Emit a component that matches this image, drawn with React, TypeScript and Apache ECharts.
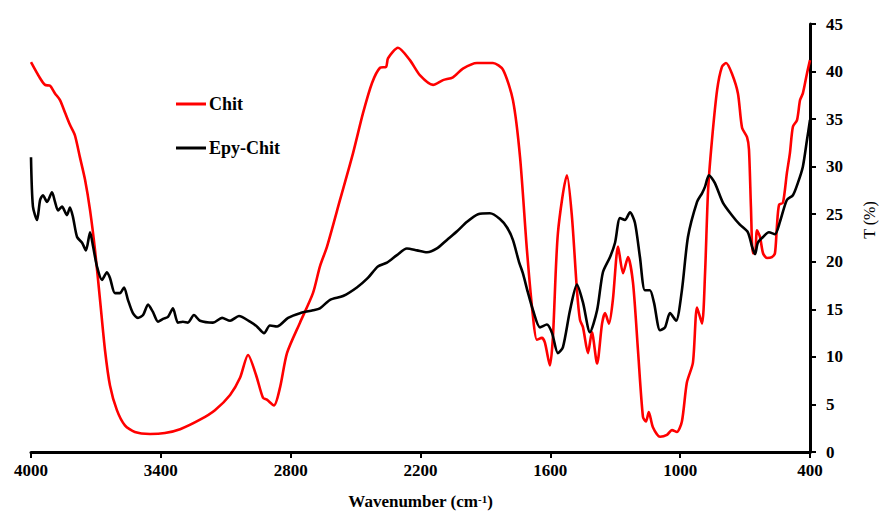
import React, { useEffect, useRef } from "react";
import * as echarts from "echarts";

const xTicks = [4000, 3400, 2800, 2200, 1600, 1000, 400];

const chitWn = [4000, 3958, 3935, 3912, 3889, 3866, 3843, 3820, 3797, 3774, 3750, 3727, 3704, 3681, 3658, 3635, 3603, 3566, 3520, 3450, 3381, 3311, 3219, 3150, 3080, 3034, 2997, 2960, 2928, 2910, 2877, 2849, 2817, 2757, 2697, 2665, 2632, 2572, 2512, 2466, 2424, 2387, 2359, 2350, 2304, 2249, 2202, 2142, 2096, 2050, 2004, 1939, 1865, 1819, 1773, 1740, 1708, 1680, 1662, 1639, 1625, 1602, 1588, 1565, 1523, 1500, 1477, 1463, 1449, 1426, 1408, 1384, 1361, 1347, 1329, 1311, 1287, 1264, 1241, 1218, 1195, 1172, 1158, 1145, 1126, 1093, 1061, 1038, 1015, 992, 969, 941, 922, 899, 885, 871, 853, 829, 807, 788, 761, 733, 714, 691, 682, 673, 664, 654, 645, 631, 617, 599, 576, 562, 553, 543, 525, 507, 493, 479, 460, 446, 433, 414, 400];
const chitT = [41.0, 39.3, 38.6, 38.5, 37.7, 37.0, 35.7, 34.4, 33.3, 31.0, 28.6, 25.4, 21.2, 16.0, 10.7, 7.0, 4.4, 2.8, 2.1, 1.9, 2.0, 2.4, 3.4, 4.4, 6.0, 7.8, 10.2, 8.1, 5.7, 5.5, 4.9, 6.8, 10.4, 13.6, 16.7, 19.5, 21.6, 26.5, 31.4, 35.6, 38.8, 40.4, 40.5, 41.4, 42.5, 41.2, 39.6, 38.6, 39.1, 39.4, 40.3, 40.9, 40.9, 40.2, 37.0, 31.0, 21.2, 14.2, 11.8, 12.0, 11.5, 9.1, 12.1, 23.0, 29.1, 24.7, 17.0, 13.9, 13.1, 10.4, 12.6, 9.3, 13.5, 14.6, 13.5, 16.0, 21.6, 18.8, 20.5, 17.8, 10.7, 3.7, 3.2, 4.2, 2.6, 1.6, 1.8, 2.3, 2.1, 3.2, 7.3, 9.4, 15.2, 13.5, 18.8, 27.5, 32.8, 38.1, 40.5, 40.9, 39.8, 37.7, 34.1, 33.1, 31.8, 25.8, 20.9, 20.9, 23.3, 22.6, 20.9, 20.4, 20.5, 20.9, 23.7, 26.0, 26.2, 29.3, 31.4, 34.2, 34.9, 37.0, 37.7, 39.8, 41.2];

const epyWn = [4000, 3991, 3972, 3958, 3945, 3926, 3903, 3889, 3875, 3857, 3834, 3820, 3806, 3787, 3764, 3746, 3727, 3713, 3695, 3672, 3649, 3635, 3612, 3589, 3570, 3552, 3529, 3506, 3482, 3459, 3436, 3413, 3390, 3367, 3344, 3321, 3298, 3275, 3247, 3219, 3159, 3117, 3080, 3039, 2988, 2956, 2923, 2896, 2863, 2812, 2757, 2697, 2665, 2618, 2558, 2494, 2443, 2397, 2355, 2309, 2263, 2216, 2170, 2124, 2078, 2031, 1985, 1934, 1879, 1833, 1800, 1773, 1745, 1727, 1704, 1680, 1648, 1616, 1592, 1565, 1542, 1509, 1477, 1449, 1417, 1384, 1357, 1324, 1301, 1278, 1255, 1232, 1209, 1186, 1163, 1140, 1121, 1093, 1070, 1047, 1019, 992, 964, 922, 899, 885, 867, 840, 802, 761, 724, 687, 668, 654, 641, 617, 590, 562, 539, 507, 479, 456, 433, 414, 400];
const epyT = [31.0, 25.8, 24.4, 26.5, 27.0, 26.3, 27.3, 26.3, 25.4, 25.8, 24.9, 25.7, 24.7, 22.6, 22.0, 21.2, 23.1, 21.6, 19.5, 18.1, 18.9, 18.3, 16.7, 16.7, 17.3, 16.0, 14.6, 14.1, 14.4, 15.5, 14.7, 13.7, 14.0, 14.2, 15.1, 13.6, 13.7, 13.6, 14.4, 13.8, 13.6, 14.1, 13.8, 14.3, 13.7, 13.2, 12.5, 13.3, 13.2, 14.1, 14.6, 14.9, 15.1, 16.0, 16.4, 17.3, 18.3, 19.5, 19.9, 20.7, 21.4, 21.2, 21.0, 21.4, 22.3, 23.2, 24.2, 25.0, 25.1, 24.5, 23.6, 22.3, 20.0, 18.8, 16.8, 14.9, 13.1, 13.4, 12.5, 10.4, 11.0, 14.9, 17.6, 15.7, 12.6, 14.9, 18.9, 20.5, 22.0, 24.6, 24.4, 25.2, 24.1, 20.5, 17.0, 17.0, 15.7, 12.8, 13.1, 14.6, 13.8, 17.0, 22.6, 26.3, 27.2, 27.9, 29.1, 28.3, 26.2, 24.9, 23.9, 23.1, 21.6, 20.8, 22.0, 22.6, 23.1, 22.9, 24.2, 26.5, 27.0, 28.3, 30.0, 32.8, 34.9];

const FONT = "'Liberation Serif', 'Times New Roman', serif";

export default function App() {
  const ref = useRef<HTMLDivElement>(null);
  useEffect(() => {
    document.body.style.margin = "0";
    if (!ref.current) return;
    const chart = echarts.init(ref.current, undefined, { renderer: "svg" });
    const chitData = chitWn.map((w, i) => [w, chitT[i]]);
    const epyData = epyWn.map((w, i) => [w, epyT[i]]);
    chart.setOption({
      animation: false,
      backgroundColor: "#ffffff",
      grid: { left: 31, right: 69, top: 24, bottom: 61, outerBoundsMode: "none" },
      legend: {
        orient: "vertical",
        left: 176,
        top: 95,
        padding: 0,
        itemWidth: 30,
        itemHeight: 3,
        itemGap: 26,
        icon: "rect",
        textStyle: { fontFamily: FONT, fontWeight: "bold", fontSize: 18, color: "#000", lineHeight: 18, padding: [0, 0, 0, -2] },
        data: ["Chit", "Epy-Chit"],
      },
      xAxis: {
        type: "value",
        min: 400,
        max: 4000,
        inverse: true,
        name: "{a|Wavenumber (cm}{s|-1}{a|)}",
        nameLocation: "middle",
        nameGap: 41,
        nameTextStyle: {
          rich: {
            a: { fontFamily: FONT, fontWeight: "bold", fontSize: 17, color: "#000" },
            s: { fontFamily: FONT, fontWeight: "bold", fontSize: 11, color: "#000", verticalAlign: "top", padding: [0, 0, 6, 0] },
          },
        },
        axisLine: { show: true, lineStyle: { color: "#000", width: 3 } },
        axisTick: { show: true, inside: false, length: 6, lineStyle: { color: "#000", width: 2 }, customValues: xTicks },
        axisLabel: {
          customValues: xTicks,
          formatter: (v: number) => String(v),
          margin: 10,
          fontFamily: FONT,
          fontWeight: "bold",
          fontSize: 17,
          color: "#000",
        },
        splitLine: { show: false },
      },
      yAxis: {
        type: "value",
        position: "right",
        min: 0,
        max: 45,
        interval: 5,
        axisLine: { show: true, lineStyle: { color: "#000", width: 3 } },
        axisTick: { show: true, inside: false, length: 6, lineStyle: { color: "#000", width: 2 } },
        axisLabel: { margin: 16, fontFamily: FONT, fontWeight: "bold", fontSize: 17, color: "#000" },
        splitLine: { show: false },
      },
      graphic: [
        {
          type: "text",
          x: 869,
          y: 220,
          rotation: Math.PI / 2,
          style: { text: "T (%)", fontFamily: FONT, fontSize: 16, fill: "#000", textAlign: "center", textVerticalAlign: "middle" },
        },
      ],
      series: [
        {
          name: "Chit",
          type: "line",
          data: chitData,
          showSymbol: false,
          smooth: 0.25,
          color: "#ff0000",
          lineStyle: { color: "#ff0000", width: 2.6 },
        },
        {
          name: "Epy-Chit",
          type: "line",
          data: epyData,
          showSymbol: false,
          smooth: 0.25,
          color: "#000000",
          lineStyle: { color: "#000000", width: 2.6 },
        },
      ],
    });
    return () => chart.dispose();
  }, []);
  return <div ref={ref} style={{ width: 879, height: 513 }} />;
}
